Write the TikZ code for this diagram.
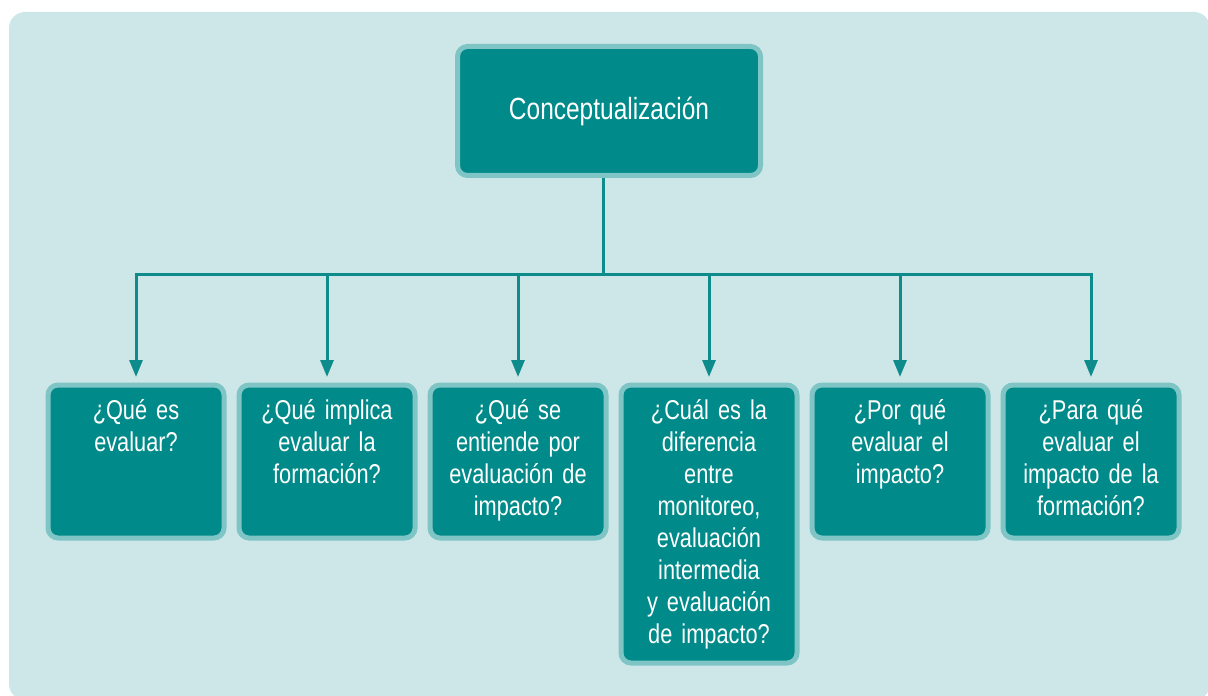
\documentclass[tikz,border=0pt]{standalone}
\usepackage{fontspec}
\setmainfont{Liberation Sans}[FakeStretch=0.8]
\usetikzlibrary{arrows.meta}
\usetikzlibrary{backgrounds}

\definecolor{panel}{HTML}{CDE7E8}
\definecolor{boxfill}{HTML}{008B8A}
\definecolor{boxline}{HTML}{80C5C5}
\definecolor{linkcol}{HTML}{0E8C8C}

\tikzset{
  headbox/.style={rectangle, rounded corners=5pt, fill=boxfill, draw=boxline,
    line width=2.5pt, text=white, minimum width=151.5pt, minimum height=64.5pt,
    font=\fontsize{15.3}{16}\selectfont},
  qbox/.style={rectangle, rounded corners=5pt, fill=boxfill, draw=boxline,
    line width=2.5pt, text=white, text width=84pt, align=center,
    inner xsep=2pt, inner ysep=0pt, text height=17.25pt, text depth=59.25pt,
    anchor=north, font=\fontsize{13.6}{16}\selectfont},
  link/.style={draw=linkcol, line width=1.5pt},
}

\begin{document}
\begin{tikzpicture}[x=0.5pt,y=-0.5pt]
            \useasboundingbox (0,0) rectangle (1208,695);

            % heading box
            \node[headbox] (concept) at (609,111) {Conceptualización};

            % question boxes
            \node[qbox] (q1) at (136,382.5) {¿Qué es\\evaluar?};
            \node[qbox] (q2) at (327,382.5) {¿Qué implica\\evaluar la\\formación?};
            \node[qbox] (q3) at (518,382.5) {¿Qué se\\entiende por\\evaluación de\\impacto?};
            \node[qbox, text depth=121.75pt] (q4) at (709,382.5) {¿Cuál es la\\diferencia\\entre\\monitoreo,\\evaluación\\intermedia\\y evaluación\\de impacto?};
            \node[qbox] (q5) at (900,382.5) {¿Por qué\\evaluar el\\impacto?};
            \node[qbox] (q6) at (1091,382.5) {¿Para qué\\evaluar el\\impacto de la\\formación?};

            \begin{scope}[on background layer]
                % panel
                \fill[panel, rounded corners=8pt] (9,12) rectangle (1210,700);

                % connectors
                \coordinate (bus) at ([xshift=-3pt]concept.south |- 0,274);
                \draw[link] ([xshift=-3pt]concept.south) -- (bus);
                \draw[link, line cap=rect] (q1 |- bus) -- (q6 |- bus);
                \foreach \i in {1,...,6}
                    \draw[link, -{Triangle[width=6.5pt,length=8.5pt]}, shorten >=2.75pt] (q\i |- bus) -- (q\i.north);
            \end{scope}

\end{tikzpicture}
\end{document}
